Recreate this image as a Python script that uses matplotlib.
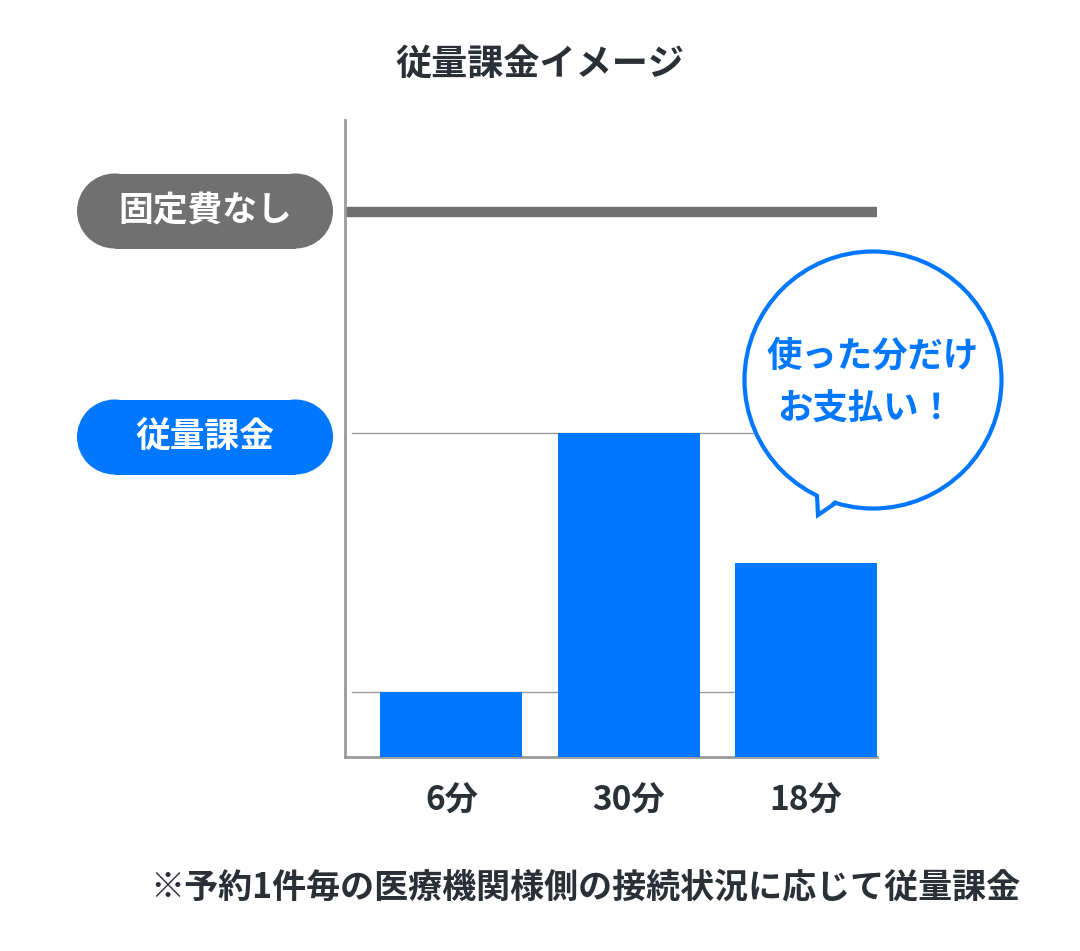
import matplotlib
matplotlib.use("Agg")
import matplotlib.pyplot as plt
from matplotlib.patches import Rectangle, Circle, Polygon

plt.rcParams['font.family'] = ['Noto Sans CJK JP', 'DejaVu Sans']

# ---- data ----
categories = ['6分', '30分', '18分']
minutes = [6, 30, 18]
fixed_fee_level = 50.5
grid_levels = [6, 30]
title = '従量課金イメージ'
label_fixed = '固定費なし'
label_usage = '従量課金'
bubble_lines = ['使った分だけ', 'お支払い！']
footnote = '※予約1件毎の医療機関様側の接続状況に応じて従量課金'

BLUE = '#0077FF'
GRAY = '#707070'
AXIS = '#9a9a9a'
DARK = '#2b2f36'

W, H = 1080, 951
fig = plt.figure(figsize=(W / 100, H / 100), dpi=100)
fig.patch.set_facecolor('white')

# main axes (pixel placement)
L, R, T, B = 345, 877, 120, 757
ax = fig.add_axes([L / W, 1 - B / H, (R - L) / W, (B - T) / H])
x = list(range(len(categories)))
ax.bar(x, minutes, width=0.8, color=BLUE, zorder=3)
ax.set_xlim(-0.6, 2.4)
ax.set_ylim(0, 59)
for g in grid_levels:
    ax.axhline(g, xmin=0.013, xmax=1, color=AXIS, lw=1.0, zorder=1)
ax.axhline(fixed_fee_level, color=GRAY, lw=7.5, zorder=2, solid_capstyle='butt')
for s in ['top', 'right']:
    ax.spines[s].set_visible(False)
for s in ['left', 'bottom']:
    ax.spines[s].set_color(AXIS)
    ax.spines[s].set_linewidth(2.0)
ax.set_yticks([])
ax.set_xticks(x)
ax.set_xticklabels(categories, fontsize=24, fontweight='bold', color=DARK)
ax.tick_params(axis='x', length=0, pad=20)

# overlay axes in pixel coordinates
ov = fig.add_axes([0, 0, 1, 1], zorder=5)
ov.set_xlim(0, W)
ov.set_ylim(H, 0)
ov.axis('off')
ov.patch.set_alpha(0)

ov.text(540, 64, title, ha='center', va='center', fontsize=26,
        fontweight='bold', color=DARK)

# pills (rectangle + two semicircular ends)
for (yc, col, txt) in [(211, GRAY, label_fixed), (437, BLUE, label_usage)]:
    h = 75
    x0, x1 = 77, 333
    ov.add_patch(Rectangle((x0 + h / 2, yc - h / 2), (x1 - x0) - h, h,
                           fc=col, ec='none', lw=0))
    ov.add_patch(Circle((x0 + h / 2, yc), h / 2, fc=col, ec='none', lw=0))
    ov.add_patch(Circle((x1 - h / 2, yc), h / 2, fc=col, ec='none', lw=0))
    ov.text(205, yc, txt, ha='center', va='center', fontsize=25,
            fontweight='bold', color='white', zorder=4)

# speech bubble
cx, cy, r = 873, 380, 128.5
ov.add_patch(Circle((cx, cy), r, fc='white', ec=BLUE, lw=3.0, zorder=6))
b1, tip, b2 = (817, 495), (818, 515), (837, 502)
ov.add_patch(Polygon([(819, 490), tip, (838, 497)], closed=True,
                     fc='white', ec='none', zorder=7))
ov.plot([b1[0], tip[0], b2[0]], [b1[1], tip[1], b2[1]], color=BLUE,
        lw=3.0, zorder=8, solid_joinstyle='miter', solid_capstyle='butt')
ov.text(873, 356, bubble_lines[0], ha='center', va='center', fontsize=25.5,
        fontweight='bold', color=BLUE, zorder=9)
ov.text(866, 409, bubble_lines[1], ha='center', va='center', fontsize=25.5,
        fontweight='bold', color=BLUE, zorder=9)

ov.text(585, 887, footnote, ha='center', va='center', fontsize=24.5,
        fontweight='bold', color=DARK)

fig.savefig('out.png', dpi=100)
